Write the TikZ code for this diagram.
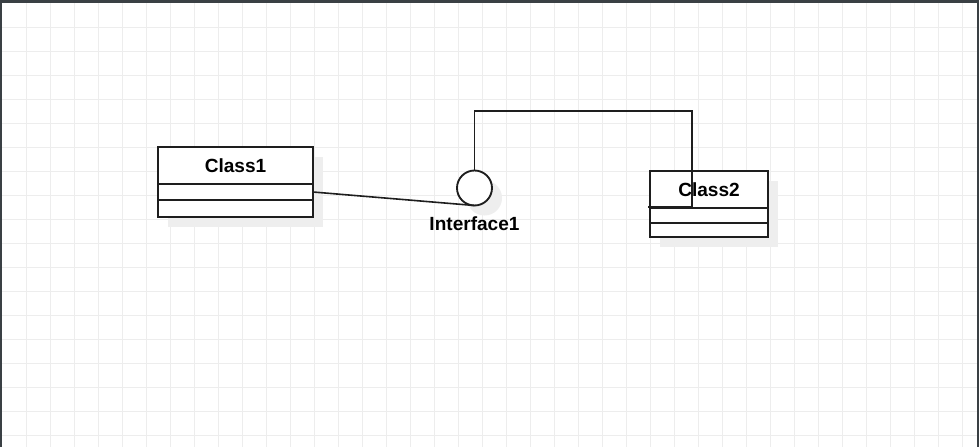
\documentclass[tikz,border=0pt]{standalone}
\usepackage{fontspec}
\setmainfont{Liberation Sans}
\usetikzlibrary{positioning,shadows}
\definecolor{gridgray}{HTML}{EDEDED}
\definecolor{edgegray}{HTML}{3A4044}
\definecolor{linegray}{HTML}{1E1E1E}
\definecolor{shadowgray}{HTML}{EEEEEE}

\begin{document}
\begin{tikzpicture}[x=0.75pt, y=-0.75pt, line width=1.4pt, node distance=0pt]
        \tikzstyle{boxshadow}=[general shadow={fill=shadowgray, shadow xshift=7.5pt, shadow yshift=-7.5pt}]
        \tikzstyle{classbox}=[rectangle, draw=linegray, fill=white, outer sep=0pt, inner sep=0pt, boxshadow]
        \tikzstyle{classhead}=[classbox, minimum height=27.75pt, font=\fontsize{14.3}{17}\selectfont\bfseries]
        \tikzstyle{classpart}=[classbox]
        \tikzstyle{iface}=[circle, draw=linegray, fill=white, inner sep=0pt, outer sep=0pt, minimum size=26.25pt, boxshadow]
        \tikzstyle{ifacename}=[inner sep=0pt, font=\fontsize{14.3}{17}\selectfont\bfseries]

        \useasboundingbox (0,0) rectangle (979,447);
        % canvas and grid
        \fill[white] (0,0) rectangle (979,447);
        \foreach \x in {26,50,...,974}
            \draw[gridgray, line width=0.75pt] (\x,3) -- (\x,447);
        \foreach \y in {27,51,...,447}
            \draw[gridgray, line width=0.75pt] (2,\y) -- (977,\y);
        \fill[edgegray] (0,0) rectangle (979,3);
        \fill[edgegray] (0,0) rectangle (2,447);
        \fill[edgegray] (977,0) rectangle (979,447);

        \node[classhead, minimum width=116.25pt]                (c1)  at (235.5,165.5) {Class1};
        \node[classpart, minimum width=116.25pt, minimum height=12pt]    (c1a) [below=of c1]  {};
        \node[classpart, minimum width=116.25pt, minimum height=12.75pt] (c1b) [below=of c1a] {};

        \node[classhead, minimum width=88.5pt]                  (c2)  at (709,189.5)   {Class2};
        \node[classpart, minimum width=88.5pt, minimum height=11.25pt]   (c2a) [below=of c2]  {};
        \node[classpart, minimum width=88.5pt, minimum height=10.5pt]    (c2b) [below=of c2a] {};

        \node[iface]                                            (i1)  at (474.5,188)   {};
        \node[ifacename]                                        (i1n) [below=7.5pt of i1] {Interface1};

        \coordinate (turn) at (692,111);
        \coordinate (c2tip) at ([xshift=-1.2pt, yshift=0.6pt]c2.south west);

        \draw[linegray, line width=1.2pt] (c1a.east) -- (i1.south);
        \draw[linegray, line width=1.2pt] (i1.north) |- (turn) -- (turn |- c2tip) -- (c2tip);
    \end{tikzpicture}
\end{document}
